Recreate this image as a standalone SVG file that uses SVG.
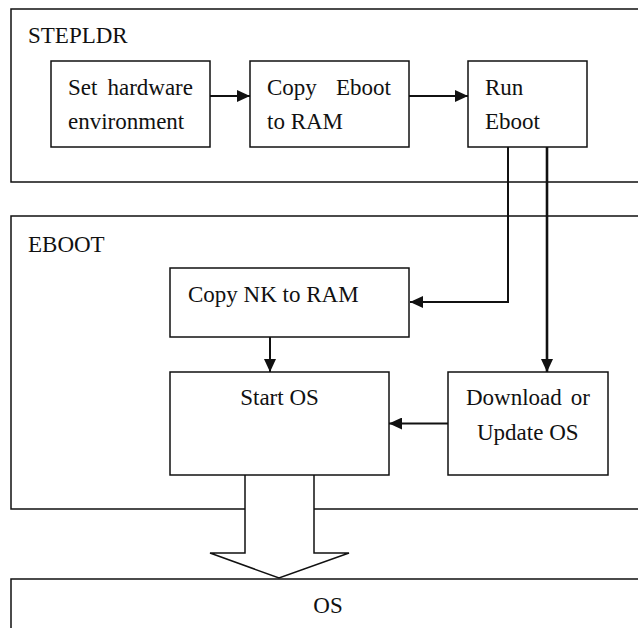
<svg xmlns="http://www.w3.org/2000/svg" width="638" height="628" viewBox="0 0 638 628">
  <defs>
    <marker id="head" markerUnits="userSpaceOnUse" markerWidth="14" markerHeight="12" refX="13" refY="6" orient="auto">
      <path d="M0,0 L13,6 L0,12 Z" fill="#111"/>
    </marker>
  </defs>
  <rect width="638" height="628" fill="#fff"/>

  <!-- STEPLDR stage -->
  <g id="stepldr">
    <path d="M638,9 H11 V182 H638" fill="none" stroke="#111" stroke-width="1.5"/>
    <text x="28" y="43" font-family="Liberation Serif" font-size="23" fill="#111">STEPLDR</text>
  </g>
  <g id="set-hw">
    <rect x="51" y="61" width="159" height="86" fill="#fff" stroke="#111" stroke-width="1.5"/>
    <text x="68" y="95" font-family="Liberation Serif" font-size="23" fill="#111">Set</text>
    <text x="193" y="95" text-anchor="end" font-family="Liberation Serif" font-size="23" fill="#111">hardware</text>
    <text x="68" y="129" font-family="Liberation Serif" font-size="23" fill="#111">environment</text>
  </g>
  <g id="copy-eboot">
    <rect x="250" y="61" width="159" height="86" fill="#fff" stroke="#111" stroke-width="1.5"/>
    <text x="267" y="95" font-family="Liberation Serif" font-size="23" fill="#111">Copy</text>
    <text x="391" y="95" text-anchor="end" font-family="Liberation Serif" font-size="23" fill="#111">Eboot</text>
    <text x="267" y="129" font-family="Liberation Serif" font-size="23" fill="#111">to RAM</text>
  </g>
  <g id="run-eboot">
    <rect x="468" y="61" width="119" height="86" fill="#fff" stroke="#111" stroke-width="1.5"/>
    <text x="485" y="95" font-family="Liberation Serif" font-size="23" fill="#111">Run</text>
    <text x="485" y="129" font-family="Liberation Serif" font-size="23" fill="#111">Eboot</text>
  </g>

  <!-- EBOOT stage -->
  <g id="eboot">
    <path d="M638,216 H11 V509 H638" fill="none" stroke="#111" stroke-width="1.5"/>
    <text x="28" y="252" font-family="Liberation Serif" font-size="23" fill="#111">EBOOT</text>
  </g>
  <g id="copy-nk">
    <rect x="170" y="268" width="239" height="69" fill="#fff" stroke="#111" stroke-width="1.5"/>
    <text x="188" y="302" font-family="Liberation Serif" font-size="23" fill="#111">Copy NK to RAM</text>
  </g>
  <g id="start-os">
    <rect x="170" y="372" width="219" height="103" fill="#fff" stroke="#111" stroke-width="1.5"/>
    <text x="279.5" y="405" text-anchor="middle" font-family="Liberation Serif" font-size="23" fill="#111">Start OS</text>
  </g>
  <g id="download-os">
    <rect x="448" y="372" width="160" height="103" fill="#fff" stroke="#111" stroke-width="1.5"/>
    <text x="466" y="405" font-family="Liberation Serif" font-size="23" fill="#111">Download</text>
    <text x="590" y="405" text-anchor="end" font-family="Liberation Serif" font-size="23" fill="#111">or</text>
    <text x="477" y="440" font-family="Liberation Serif" font-size="23" fill="#111">Update OS</text>
  </g>

  <!-- OS stage -->
  <g id="os">
    <path d="M638,579 H11 V628" fill="none" stroke="#111" stroke-width="1.5"/>
    <text x="328" y="613" text-anchor="middle" font-family="Liberation Serif" font-size="23" fill="#111">OS</text>
  </g>

  <!-- connectors -->
  <g id="connectors" fill="none" stroke="#111" stroke-width="2">
    <path d="M210,96 H250" marker-end="url(#head)"/>
    <path d="M409,96 H468" marker-end="url(#head)"/>
    <path d="M508,147 V302 H410" marker-end="url(#head)"/>
    <path d="M547,147 V372" stroke-width="2.6" marker-end="url(#head)"/>
    <path d="M270,337 V372" marker-end="url(#head)"/>
    <path d="M448,423.5 H389" marker-end="url(#head)"/>
    <!-- hollow block arrow from EBOOT down to OS -->
    <path d="M245,476 V553 H210 L279,578 L349,553 H314 V476 Z" fill="#fff" stroke="none"/>
    <path d="M245,475 V553 H210 L279,578 L349,553 H314 V475" stroke-width="1.5"/>
  </g>
</svg>
